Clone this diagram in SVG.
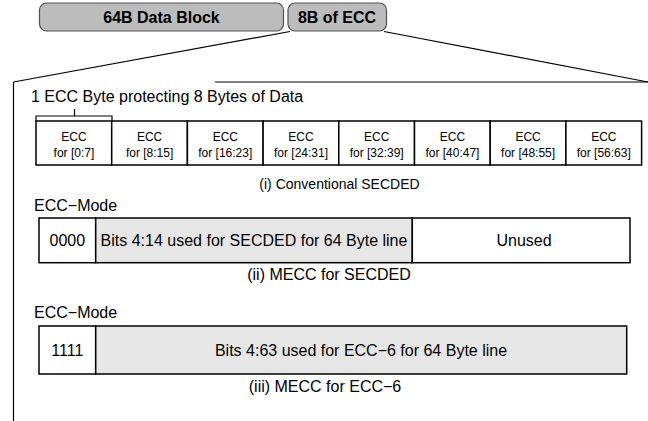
<svg xmlns="http://www.w3.org/2000/svg" width="648" height="421" viewBox="0 0 648 421">
<style>
text{font-family:"Liberation Sans",Arial,Helvetica,sans-serif;fill:#000}
.top{fill:#bcbcbc;stroke:#505050;stroke-width:1.2}
.tt{font-weight:bold;font-size:16px;text-anchor:middle}
.cell{fill:#fff;stroke:#000;stroke-width:1.5}
.ct{font-size:12px;text-anchor:middle}
.lbl{font-size:16px}
.cap{font-size:14px;text-anchor:middle}
.cap2{font-size:16px;text-anchor:middle}
.mode{fill:#fff;stroke:#000;stroke-width:1.5}
.used{fill:#e6e6e6;stroke:#000;stroke-width:1.5}
.bt{font-size:16px;text-anchor:middle}
.ln{fill:none;stroke:#000;stroke-width:1.2}
</style>
<rect width="648" height="421" fill="#fff"/>
<g id="data-block"><rect class="top" x="39.5" y="3" width="244" height="28" rx="7"/><text class="tt" x="161.5" y="23">64B Data Block</text></g>
<g id="ecc-block"><rect class="top" x="288" y="3" width="98.5" height="28" rx="7"/><text class="tt" x="337" y="23">8B of ECC</text></g>
<g id="connectors">
<path class="ln" d="M13.5,82 L290,31.5"/>
<path class="ln" d="M384,31.5 L648,82"/>
<path class="ln" d="M215,82 L648,82"/>
<path class="ln" d="M13.5,82 L13.5,421"/>
<path class="ln" d="M36,121 V116 H112 V121 M74.5,116 V109"/>
</g>
<text class="lbl" x="31" y="102">1 ECC Byte protecting 8 Bytes of Data</text>
<g id="conventional">
<rect class="cell" x="36" y="121" width="75.7" height="44"/>
<rect class="cell" x="111.7" y="121" width="75.7" height="44"/>
<rect class="cell" x="187.4" y="121" width="75.7" height="44"/>
<rect class="cell" x="263.1" y="121" width="75.7" height="44"/>
<rect class="cell" x="338.8" y="121" width="75.7" height="44"/>
<rect class="cell" x="414.5" y="121" width="75.7" height="44"/>
<rect class="cell" x="490.2" y="121" width="75.7" height="44"/>
<rect class="cell" x="565.9" y="121" width="75.7" height="44"/>
<text class="ct" x="73.9" y="141">ECC</text><text class="ct" x="73.9" y="157">for [0:7]</text>
<text class="ct" x="149.6" y="141">ECC</text><text class="ct" x="149.6" y="157">for [8:15]</text>
<text class="ct" x="225.3" y="141">ECC</text><text class="ct" x="225.3" y="157">for [16:23]</text>
<text class="ct" x="301" y="141">ECC</text><text class="ct" x="301" y="157">for [24:31]</text>
<text class="ct" x="376.7" y="141">ECC</text><text class="ct" x="376.7" y="157">for [32:39]</text>
<text class="ct" x="452.4" y="141">ECC</text><text class="ct" x="452.4" y="157">for [40:47]</text>
<text class="ct" x="528.1" y="141">ECC</text><text class="ct" x="528.1" y="157">for [48:55]</text>
<text class="ct" x="603.8" y="141">ECC</text><text class="ct" x="603.8" y="157">for [56:63]</text>
<text class="cap" x="339.5" y="189">(i) Conventional SECDED</text>
</g>
<g id="mecc-secded">
<text class="lbl" x="34" y="211">ECC−Mode</text>
<rect class="mode" x="39" y="218" width="56.7" height="44.7"/>
<rect class="used" x="95.7" y="218" width="316.6" height="44.7"/>
<rect class="mode" x="412.3" y="218" width="217.7" height="44.7"/>
<text class="bt" x="67.3" y="246">0000</text>
<text class="bt" x="254" y="246">Bits 4:14 used for SECDED for 64 Byte line</text>
<text class="bt" x="524" y="246">Unused</text>
<text class="cap2" x="329" y="280">(ii) MECC for SECDED</text>
</g>
<g id="mecc-ecc6">
<text class="lbl" x="34" y="318">ECC−Mode</text>
<rect class="mode" x="39" y="326" width="56.7" height="48"/>
<rect class="used" x="95.7" y="326" width="531" height="48"/>
<text class="bt" x="67.3" y="356">1111</text>
<text class="bt" x="361" y="356">Bits 4:63 used for ECC−6 for 64 Byte line</text>
<text class="cap2" x="325" y="392">(iii) MECC for ECC−6</text>
</g>
</svg>
